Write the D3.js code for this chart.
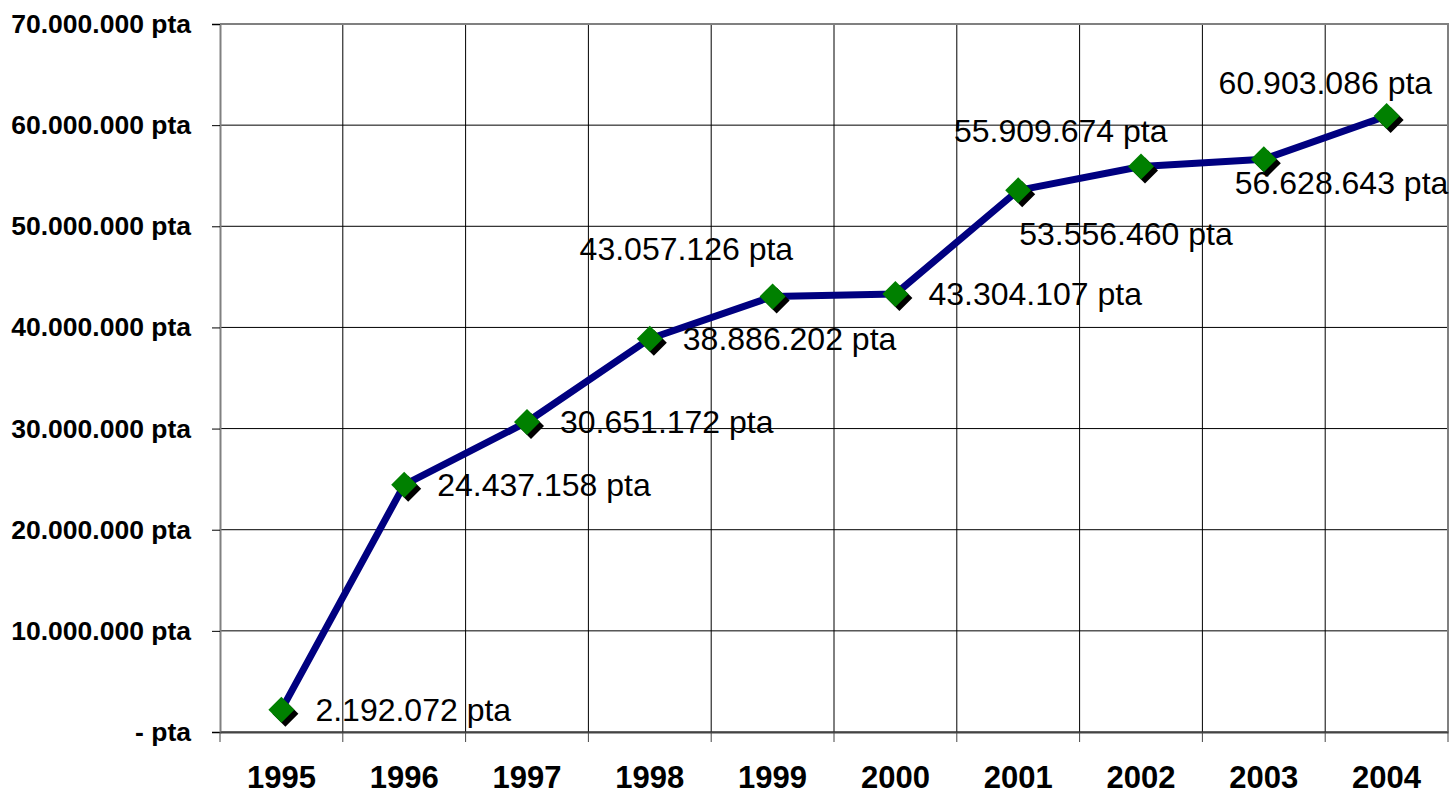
<!DOCTYPE html>
<html>
<head>
<meta charset="utf-8">
<script src="https://cdn.jsdelivr.net/npm/d3@7/dist/d3.min.js"></script>
<style>
  html, body { margin: 0; padding: 0; background: #fff; }
  svg { display: block; }
  text { font-family: "Liberation Sans", Arial, sans-serif; }
</style>
</head>
<body>
<svg id="chart" width="1456" height="797"></svg>
<script>
// Annual amounts, in pesetas
const years = ["1995", "1996", "1997", "1998", "1999", "2000", "2001", "2002", "2003", "2004"];
const amounts = [2192072, 24437158, 30651172, 38886202, 43057126, 43304107, 53556460, 55909674, 56628643, 60903086];
const yTicks = [0, 10000000, 20000000, 30000000, 40000000, 50000000, 60000000, 70000000];

// Where each value label sits relative to its marker (text start, vertical centre)
const labelOffsets = [
  [34, 0], [33, 0], [33, 0], [33, 0], [-193, -48],
  [33, 0], [1, 43], [-187, -36], [-29, 24], [-168, -33]
];

const es = d3.formatLocale({ decimal: ",", thousands: ".", grouping: [3], currency: ["", ""] });
const fmt = es.format(",.0f");
const money = v => (v === 0 ? "- pta" : fmt(v) + " pta");

const svg = d3.select("#chart");
const plot = { left: 220, right: 1448, top: 24, bottom: 732 };

const x = d3.scaleBand().domain(years).range([plot.left, plot.right]).padding(0);
const y = d3.scaleLinear().domain([0, 70000000]).range([plot.bottom, plot.top]);
const cx = d => x(d) + x.bandwidth() / 2;

// Horizontal grid
svg.append("g")
  .selectAll("line")
  .data(yTicks)
  .join("line")
  .attr("x1", plot.left).attr("x2", plot.right)
  .attr("y1", d => y(d)).attr("y2", d => y(d))
  .attr("stroke", "#000").attr("stroke-width", 1);

// Vertical grid at category boundaries
svg.append("g")
  .selectAll("line")
  .data(years.slice(1))
  .join("line")
  .attr("x1", d => x(d)).attr("x2", d => x(d))
  .attr("y1", plot.top).attr("y2", plot.bottom)
  .attr("stroke", "#000").attr("stroke-width", 1);

// Plot frame: top and right edges
svg.append("path")
  .attr("d", `M${plot.left},${plot.top}H${plot.right}V${plot.bottom}`)
  .attr("fill", "none").attr("stroke", "#808080").attr("stroke-width", 2);

// Y axis
const yAxis = svg.append("g")
  .attr("transform", `translate(${plot.left},0)`)
  .call(d3.axisLeft(y).tickValues(yTicks).tickFormat(money).tickSize(8).tickPadding(21));
yAxis.select(".domain").attr("stroke", "#808080").attr("stroke-width", 2);
yAxis.selectAll(".tick line").attr("stroke", "#000");
yAxis.selectAll(".tick text")
  .attr("fill", "#000")
  .style("font-size", "26.5px").style("font-weight", "bold")
  .style("font-family", "'Liberation Sans', Arial, sans-serif");

// X axis
const xAxis = svg.append("g")
  .attr("transform", `translate(0,${plot.bottom})`)
  .call(d3.axisBottom(x).tickSize(0).tickPadding(34));
xAxis.select(".domain").attr("stroke", "#444").attr("stroke-width", 2);
xAxis.selectAll(".tick text")
  .attr("fill", "#000")
  .style("font-size", "31px").style("font-weight", "bold")
  .style("font-family", "'Liberation Sans', Arial, sans-serif");

// Tick marks below the x axis at category boundaries
svg.append("g")
  .selectAll("line")
  .data(years.map(d => x(d)).concat([plot.right]))
  .join("line")
  .attr("x1", d => d).attr("x2", d => d)
  .attr("y1", plot.bottom).attr("y2", plot.bottom + 10)
  .attr("stroke", "#444").attr("stroke-width", 1);

const pts = years.map((yr, i) => ({ yr, v: amounts[i], off: labelOffsets[i] }));

// Series line
svg.append("path")
  .datum(pts)
  .attr("d", d3.line().x(d => cx(d.yr)).y(d => y(d.v)))
  .attr("fill", "none")
  .attr("stroke", "#000080")
  .attr("stroke-width", 7)
  .attr("stroke-linejoin", "round");

// Diamond markers with drop shadow
const diamond = "M0,-13L13,0L0,13L-13,0Z";
const markers = svg.append("g").selectAll("g").data(pts).join("g")
  .attr("transform", d => `translate(${cx(d.yr)},${y(d.v)})`);
markers.append("path").attr("d", diamond).attr("transform", "translate(4,4)").attr("fill", "#000");
markers.append("path").attr("d", diamond).attr("fill", "#008000");

// Value labels
svg.append("g").selectAll("text").data(pts).join("text")
  .attr("x", d => cx(d.yr) + d.off[0])
  .attr("y", d => y(d.v) + d.off[1])
  .attr("dy", "0.35em")
  .attr("fill", "#000")
  .style("font-size", "32px")
  .text(d => money(d.v));
</script>
</body>
</html>
